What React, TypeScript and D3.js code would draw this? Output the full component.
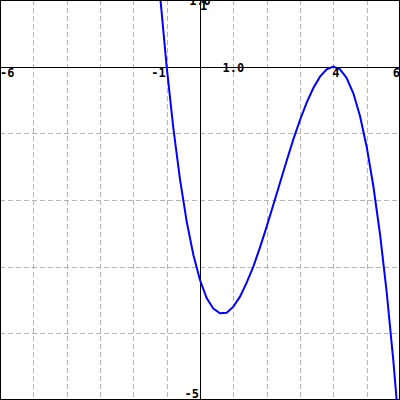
import React, { useEffect } from 'react'
import { scaleLinear, line, range } from 'd3'

// curve points
const xs = [-1.4, -1.2, -1.0, -0.8, -0.6, -0.4, -0.2, 0, 0.2, 0.4, 0.6, 0.8, 1.0, 1.2, 1.4, 1.6, 1.8, 2.0, 2.2, 2.4, 2.6, 2.8, 3.0, 3.2, 3.4, 3.6, 3.8, 4.0, 4.2, 4.4, 4.6, 4.8, 5.0, 5.2, 5.4, 5.6, 5.8, 6.0]
const ys = [2.33, 1.08, 0, -0.92, -1.69, -2.32, -2.82, -3.2, -3.47, -3.63, -3.7, -3.69, -3.6, -3.45, -3.24, -3.0, -2.71, -2.4, -2.07, -1.74, -1.41, -1.09, -0.8, -0.54, -0.32, -0.15, -0.04, 0, -0.04, -0.17, -0.4, -0.74, -1.2, -1.79, -2.51, -3.38, -4.41, -5.6]

const xDomain = [-6, 6]
const yDomain = [-5, 1]

const W = 400
const H = 400

const font = { fontFamily: 'DejaVu Sans Mono', fontWeight: 'bold', fontSize: 12 }

const App = () => {
  useEffect(() => {
    document.body.style.margin = '0'
  }, [])

  const x = scaleLinear().domain(xDomain).range([0, W])
  const y = scaleLinear().domain(yDomain).range([H, 0])

  const pts = xs.map((v, i) => [v, ys[i]])
  const path = line().x(d => x(d[0])).y(d => y(d[1]))(pts)

  const gx = range(xDomain[0] + 1, xDomain[1])
  const gy = range(yDomain[0] + 1, yDomain[1])

  return (
    <svg width={W} height={H} style={{ display: 'block' }}>
      <defs>
        <clipPath id="plot">
          <rect x={0} y={0} width={W} height={H} />
        </clipPath>
      </defs>
      <rect x={0} y={0} width={W} height={H} fill="white" />
      {gx.map(v => (
        <line key={'gx' + v} x1={Math.round(x(v)) + 0.5} x2={Math.round(x(v)) + 0.5} y1={0} y2={H}
          stroke="#b4b4b4" strokeDasharray="5,3" />
      ))}
      {gy.map(v => (
        <line key={'gy' + v} y1={Math.round(y(v)) + 0.5} y2={Math.round(y(v)) + 0.5} x1={0} x2={W}
          stroke="#b4b4b4" strokeDasharray="5,3" />
      ))}
      <line x1={0} x2={W} y1={Math.round(y(0)) + 0.5} y2={Math.round(y(0)) + 0.5} stroke="black" />
      <line y1={0} y2={H} x1={Math.round(x(0)) + 0.5} x2={Math.round(x(0)) + 0.5} stroke="black" />
      <path d={path} fill="none" stroke="#0000ff" strokeWidth={2} clipPath="url(#plot)" />
      <g style={font}>
        <text x={x(-6)} y={y(0) + 10}>-6</text>
        <text x={x(-1) - 1} y={y(0) + 10} textAnchor="end">-1</text>
        <text x={x(1)} y={y(0) + 5} textAnchor="middle">1.0</text>
        <text x={x(4) - 1} y={y(0) + 10}>4</text>
        <text x={x(6)} y={y(0) + 10} textAnchor="end">6</text>
        <text x={x(0) - 1} y={y(-5) - 2} textAnchor="end">-5</text>
        <text x={x(0)} y={y(1) + 10}>1</text>
        <text x={x(0)} y={y(1) + 5} textAnchor="middle">1.0</text>
      </g>
      <rect x={0.5} y={0.5} width={W - 1} height={H - 1} fill="none" stroke="black" />
    </svg>
  )
}

export default App
